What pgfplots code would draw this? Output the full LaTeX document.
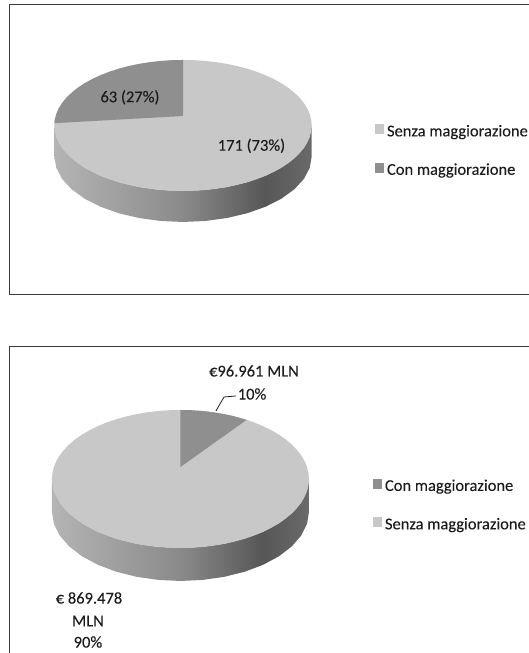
\documentclass[border=0pt]{standalone}
\usepackage{pgfplots}
\usepackage{pgfplotstable}
\usepackage{fontspec}
\setmainfont{Carlito}[FakeBold=0.12]
\pgfplotsset{compat=1.18}

\definecolor{sliceLight}{HTML}{C8C8C8}
\definecolor{sliceDark}{HTML}{8F8F8F}
\definecolor{labelText}{HTML}{1C1C1C}
\definecolor{frameLine}{HTML}{3A3A3A}
\definecolor{wallA}{HTML}{B4B4B4}
\definecolor{wallB}{HTML}{8A8A8A}
\definecolor{wallC}{HTML}{575757}
\definecolor{wallD}{HTML}{6A6A6A}
\pgfdeclarehorizontalshading{pieside}{100bp}{color(0bp)=(wallA); color(25bp)=(wallA); color(50bp)=(wallB); color(66bp)=(wallC); color(75bp)=(wallD); color(100bp)=(wallD)}

% Rim of a pie on the unit circle, one point every 5 degrees
\pgfplotstableread{
x y
1 0
.9962 .0872
.9848 .1736
.9659 .2588
.9397 .3420
.9063 .4226
.8660 .5
.8192 .5736
.7660 .6428
.7071 .7071
.6428 .7660
.5736 .8192
.5 .8660
.4226 .9063
.3420 .9397
.2588 .9659
.1736 .9848
.0872 .9962
0 1
-.0872 .9962
-.1736 .9848
-.2588 .9659
-.3420 .9397
-.4226 .9063
-.5 .8660
-.5736 .8192
-.6428 .7660
-.7071 .7071
-.7660 .6428
-.8192 .5736
-.8660 .5
-.9063 .4226
-.9397 .3420
-.9659 .2588
-.9848 .1736
-.9962 .0872
-1 0
-.9962 -.0872
-.9848 -.1736
-.9659 -.2588
-.9397 -.3420
-.9063 -.4226
-.8660 -.5
-.8192 -.5736
-.7660 -.6428
-.7071 -.7071
-.6428 -.7660
-.5736 -.8192
-.5 -.8660
-.4226 -.9063
-.3420 -.9397
-.2588 -.9659
-.1736 -.9848
-.0872 -.9962
0 -1
.0872 -.9962
.1736 -.9848
.2588 -.9659
.3420 -.9397
.4226 -.9063
.5 -.8660
.5736 -.8192
.6428 -.7660
.7071 -.7071
.7660 -.6428
.8192 -.5736
.8660 -.5
.9063 -.4226
.9397 -.3420
.9659 -.2588
.9848 -.1736
.9962 -.0872
}\rimtable

% Side wall: front half of the rim, then the same half back along the lower edge
\pgfplotstableread{
x y low
-1 0 0
-.9848 -.1736 0
-.9397 -.3420 0
-.8660 -.5 0
-.7660 -.6428 0
-.6428 -.7660 0
-.5 -.8660 0
-.3420 -.9397 0
-.1736 -.9848 0
0 -1 0
.1736 -.9848 0
.3420 -.9397 0
.5 -.8660 0
.6428 -.7660 0
.7660 -.6428 0
.8660 -.5 0
.9397 -.3420 0
.9848 -.1736 0
1 0 0
1 0 1
.9848 -.1736 1
.9397 -.3420 1
.8660 -.5 1
.7660 -.6428 1
.6428 -.7660 1
.5 -.8660 1
.3420 -.9397 1
.1736 -.9848 1
0 -1 1
-.1736 -.9848 1
-.3420 -.9397 1
-.5 -.8660 1
-.6428 -.7660 1
-.7660 -.6428 1
-.8660 -.5 1
-.9397 -.3420 1
-.9848 -.1736 1
-1 0 1
}\walltable

\tikzset{pietext/.style={text=labelText,font=\fontsize{16.5}{19}\selectfont,inner sep=0pt}}
\pgfplotsset{
  pieframe/.style={
    scale only axis,
    anchor=south west,
    ticks=none,
    clip=false,
    axis line style={frameLine,line width=0.9pt},
    legend cell align=left,
    legend image code/.code={\fill[##1] (0pt,-3pt) rectangle (9pt,7pt); \path (12pt,0pt);},
    legend style={draw=none,fill=none,inner sep=0pt,outer sep=0pt,
      font=\fontsize{16.5}{19}\selectfont\color{labelText},
      row sep=25pt,
      nodes={inner sep=0pt,outer sep=0pt}},
  },
}

\begin{document}
\begin{tikzpicture}
\useasboundingbox (0,0) rectangle (529pt,653pt);

% Number of measures with and without the surcharge
\begin{axis}[pieframe,
  at={(9.3pt,358.5pt)},
  width=525.7pt,height=289.8pt,
  xmin=-1.3497,xmax=2.735,ymin=-2.580,ymax=1.844,
  legend style={at={(axis cs:1.492,.016)},anchor=north west},
]
\addplot[forget plot,draw=none,shading=pieside]
  table[x=x,y expr=\thisrow{y}-0.473*\thisrow{low}] {\walltable} --cycle;
\addplot[forget plot,fill=sliceLight,draw=none] table[x=x,y=y] {\rimtable} --cycle;
\addplot[forget plot,fill=sliceDark,draw=none] coordinates {
  (0,.145) (0,1) (-.0872,.9962) (-.1736,.9848) (-.2588,.9659) (-.3420,.9397)
  (-.4226,.9063) (-.5,.8660) (-.5736,.8192) (-.6428,.7660) (-.7071,.7071)
  (-.7660,.6428) (-.8192,.5736) (-.8660,.5) (-.9063,.4226) (-.9397,.3420)
  (-.9659,.2588) (-.9848,.1736) (-.9962,.0872) (-.9994,.035)
} --cycle;
\addlegendimage{fill=sliceLight,draw=none}
\addlegendentry{Senza maggiorazione}
\addlegendimage{fill=sliceDark,draw=none}
\addlegendentry{Con maggiorazione}
\node[pietext] at (axis cs:-.412,.430) {63 (27\%)};
\node[pietext] at (axis cs:.532,-.310) {171 (73\%)};
\end{axis}

% Amount in millions of euro with and without the surcharge
\begin{axis}[pieframe,
  at={(9.3pt,-2pt)},
  width=525.7pt,height=308.3pt,
  xmin=-1.332,xmax=2.759,ymin=-2.551,ymax=1.917,
  legend style={at={(axis cs:1.498,.0)},anchor=north west},
]
\addplot[forget plot,draw=none,shading=pieside]
  table[x=x,y expr=\thisrow{y}-0.478*\thisrow{low}] {\walltable} --cycle;
\addplot[forget plot,fill=sliceLight,draw=none] table[x=x,y=y] {\rimtable} --cycle;
\addplot[forget plot,fill=sliceDark,draw=none] coordinates {
  (0,.174) (0,1) (.0872,.9962) (.1736,.9848) (.2588,.9659) (.3420,.9397)
  (.4226,.9063) (.515,.857)
} --cycle;
\addlegendimage{fill=sliceDark,draw=none}
\addlegendentry{Con maggiorazione}
\addlegendimage{fill=sliceLight,draw=none}
\addlegendentry{Senza maggiorazione}
% leader from the small slice to its label
\addplot[forget plot,labelText,line width=0.8pt] coordinates {(.276,.986) (.339,1.188) (.432,1.203)};
\node[pietext] at (axis cs:.572,1.565) {€96.961 MLN};
\node[pietext] at (axis cs:.557,1.232) {10\%};
\node[pietext] at (axis cs:-.712,-1.725) {€ 869.478};
\node[pietext] at (axis cs:-.720,-2.058) {MLN};
\node[pietext] at (axis cs:-.720,-2.363) {90\%};
\end{axis}
\end{tikzpicture}
\end{document}
